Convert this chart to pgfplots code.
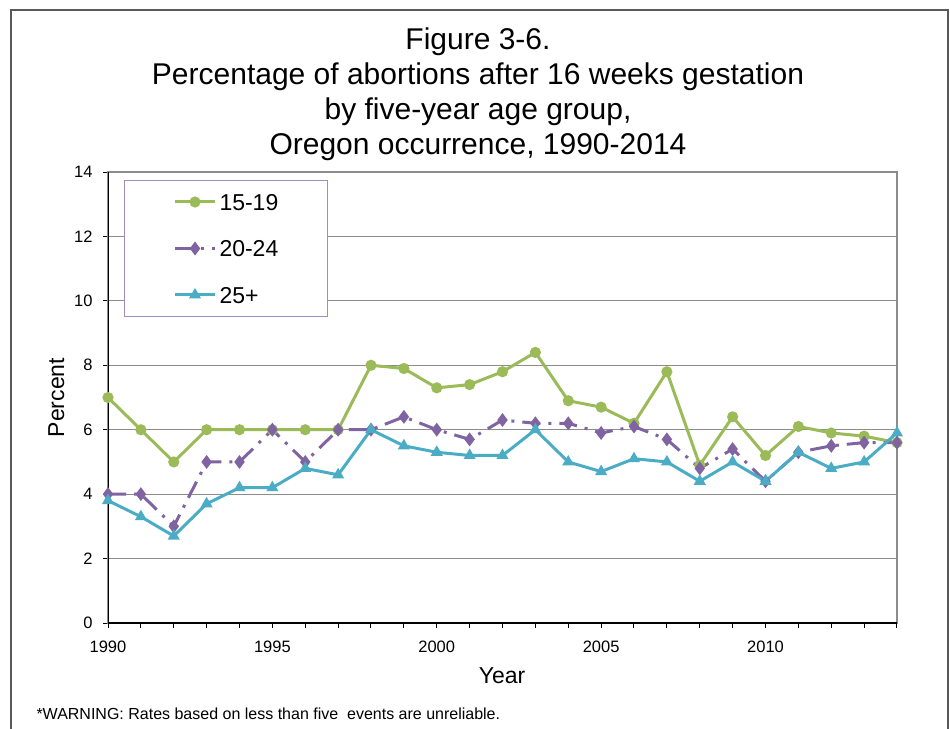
\documentclass[border=0pt]{standalone}
\usepackage{pgfplots}
\pgfplotsset{compat=1.18}
\usepackage{fontspec}
\setmainfont{Liberation Sans}
\definecolor{cgreen}{HTML}{9BBB59}
\definecolor{cpurple}{HTML}{8064A2}
\definecolor{cblue}{HTML}{4BACC6}
\definecolor{cgrid}{HTML}{8C8C8C}
\definecolor{cleg}{HTML}{9E8CC4}
\begin{document}
\begin{tikzpicture}
\useasboundingbox (0,0) rectangle (950bp,-729bp);
% outer frame
\draw[line width=1.5bp, color=black!65] (11bp,-729bp) -- (11bp,-10bp) -- (948bp,-10bp) -- (948bp,-729bp);
% titles
\node[anchor=base, font=\fontsize{30bp}{35bp}\selectfont] at (478bp,-49bp) {Figure 3-6.};
\node[anchor=base, font=\fontsize{30bp}{35bp}\selectfont] at (478bp,-84bp) {Percentage of abortions after 16 weeks gestation};
\node[anchor=base, font=\fontsize{30bp}{35bp}\selectfont] at (478bp,-119bp) {by five-year age group,};
\node[anchor=base, font=\fontsize{30bp}{35bp}\selectfont] at (478bp,-154bp) {Oregon occurrence, 1990-2014};
\begin{axis}[
  at={(108bp,-623bp)}, anchor=south west,
  scale only axis, width=789bp, height=451bp,
  xmin=1990, xmax=2014, ymin=0, ymax=14,
  xtick={1990,1995,2000,2005,2010},
  minor xtick={1990,...,2014},
  ytick={0,2,...,14},
  tick pos=left, tick align=outside,
  major tick length=5bp, minor tick length=5bp,
  every tick/.style={black, line width=1bp},
  every minor tick/.style={black, line width=1bp},
  xticklabel style={/pgf/number format/1000 sep={}, yshift=-9bp},
  yticklabel style={xshift=-7bp},
  /pgf/number format/assume math mode=true,
  tick label style={font=\fontsize{16.5bp}{19bp}\selectfont},
  ymajorgrids, major grid style={cgrid, line width=1.2bp},
  axis line style={cgrid, line width=1.2bp},
  legend style={at={(0.0203,0.9823)}, anchor=north west,
    draw=cleg, line width=1bp, fill=white,
    inner xsep=49bp, inner ysep=13bp,
    font=\fontsize{23bp}{26bp}\selectfont,
    nodes={inner sep=0pt, text height=17bp, text depth=0pt},
    row sep=29.5bp,
    /tikz/every odd column/.append style={column sep=3bp}},
  legend cell align=left,
  legend image code/.code={\draw[mark repeat=2,mark phase=2] plot coordinates {(0bp,0bp) (20bp,0bp) (40bp,0bp)};},
]
\addplot[cgreen, line width=3bp, mark=*, mark size=4bp, mark options={solid}] coordinates {
(1990,7.0) (1991,6.0) (1992,5.0) (1993,6.0) (1994,6.0) (1995,6.0) (1996,6.0) (1997,6.0)
(1998,8.0) (1999,7.9) (2000,7.3) (2001,7.4) (2002,7.8) (2003,8.4) (2004,6.9) (2005,6.7)
(2006,6.2) (2007,7.8) (2008,4.9) (2009,6.4) (2010,5.2) (2011,6.1) (2012,5.9) (2013,5.8) (2014,5.6)};
\addlegendentry{15-19}
\addplot[cpurple, line width=3bp, dash pattern=on 18bp off 8bp on 3bp off 8bp, mark=diamond*, mark size=4.5bp, mark options={solid}] coordinates {
(1990,4.0) (1991,4.0) (1992,3.0) (1993,5.0) (1994,5.0) (1995,6.0) (1996,5.0) (1997,6.0)
(1998,6.0) (1999,6.4) (2000,6.0) (2001,5.7) (2002,6.3) (2003,6.2) (2004,6.2) (2005,5.9)
(2006,6.1) (2007,5.7) (2008,4.8) (2009,5.4) (2010,4.4) (2011,5.3) (2012,5.5) (2013,5.6) (2014,5.6)};
\addlegendentry{20-24}
\addplot[cblue, line width=3bp, mark=triangle*, mark size=4bp, mark options={solid}] coordinates {
(1990,3.8) (1991,3.3) (1992,2.7) (1993,3.7) (1994,4.2) (1995,4.2) (1996,4.8) (1997,4.6)
(1998,6.0) (1999,5.5) (2000,5.3) (2001,5.2) (2002,5.2) (2003,6.0) (2004,5.0) (2005,4.7)
(2006,5.1) (2007,5.0) (2008,4.4) (2009,5.0) (2010,4.4) (2011,5.3) (2012,4.8) (2013,5.0) (2014,5.9)};
\addlegendentry{25+}
\draw[black, line width=1.2bp] (rel axis cs:0,1) -- (rel axis cs:0,0) -- (rel axis cs:1,0);
\end{axis}
\node[anchor=base, font=\fontsize{23bp}{26bp}\selectfont] at (502bp,-683bp) {Year};
\node[anchor=base, rotate=90, font=\fontsize{23bp}{26bp}\selectfont] at (64bp,-397.5bp) {Percent};
\node[anchor=base west, font=\fontsize{16bp}{19bp}\selectfont] at (33bp,-719bp) {*WARNING: Rates based on less than five\ \ events are unreliable.};
\end{tikzpicture}
\end{document}
